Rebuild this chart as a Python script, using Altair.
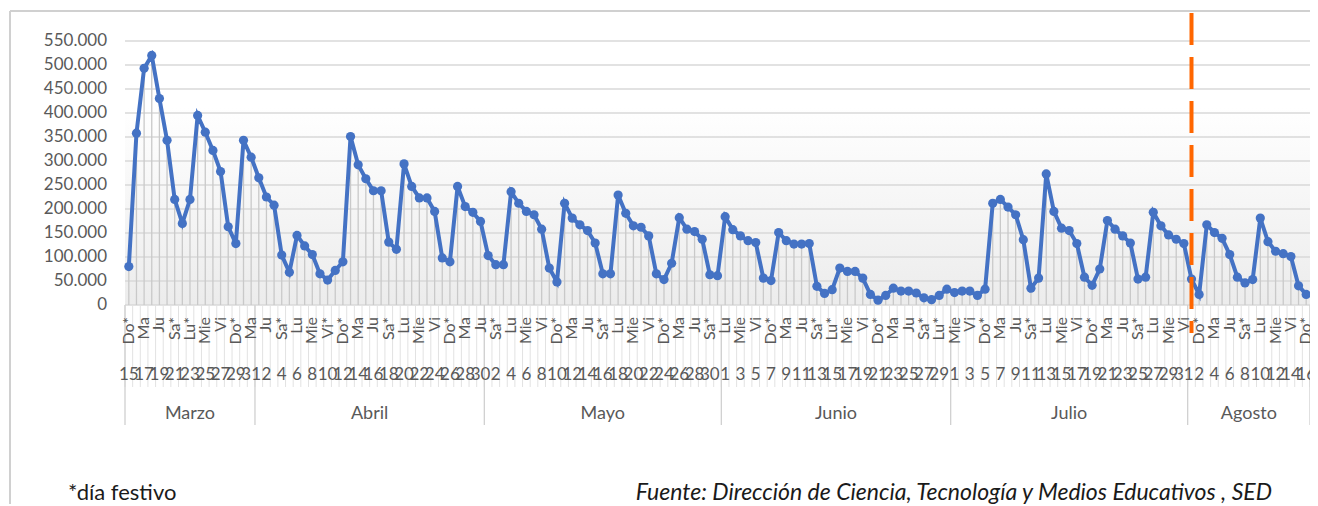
import datetime as dt
import altair as alt
import pandas as pd

# ---------------- data ----------------
months = ["Marzo", "Abril", "Mayo", "Junio", "Julio", "Agosto"]
marzo = [80, 358, 493, 520, 430, 343, 220, 170, 220, 395, 360, 322, 278, 163, 128, 343, 308]
abril = [265, 225, 208, 104, 68, 145, 123, 105, 65, 52, 72, 90, 351, 292, 263, 238, 238, 131, 116,
         294, 247, 223, 223, 195, 98, 90, 247, 205, 193, 174]
mayo = [103, 84, 84, 236, 212, 195, 188, 158, 77, 48, 212, 181, 167, 155, 129, 65, 65, 229, 191,
        165, 162, 144, 65, 53, 87, 182, 158, 153, 137, 63, 61]
junio = [184, 157, 144, 134, 130, 56, 51, 151, 134, 127, 127, 128, 39, 24, 32, 77, 70, 70, 56,
         22, 10, 20, 35, 29, 29, 25, 15, 11, 20, 33]
julio = [26, 29, 29, 20, 33, 212, 220, 204, 188, 136, 35, 56, 273, 195, 160, 155, 128, 58, 41,
         75, 176, 158, 144, 129, 54, 58, 193, 165, 146, 137, 128]
agosto = [54, 22, 167, 151, 139, 105, 58, 46, 53, 181, 132, 112, 107, 101, 40, 22]
series_k = [marzo, abril, mayo, junio, julio, agosto]
start_date = dt.date(2020, 3, 15)
dow_names = ["Lu", "Ma", "Mie", "Ju", "Vi", "Sa", "Do"]
holidays = [dt.date(2020, 3, 23), dt.date(2020, 4, 9), dt.date(2020, 4, 10), dt.date(2020, 5, 1),
            dt.date(2020, 5, 25), dt.date(2020, 6, 15), dt.date(2020, 6, 22), dt.date(2020, 6, 29),
            dt.date(2020, 7, 20), dt.date(2020, 8, 7)]
y_ticks = [0, 50000, 100000, 150000, 200000, 250000, 300000, 350000, 400000, 450000, 500000, 550000]
y_tick_labels = ["0", "50.000", "100.000", "150.000", "200.000", "250.000", "300.000",
                 "350.000", "400.000", "450.000", "500.000", "550.000"]
marker_index = 139  # 1 de agosto
note_text = "*día festivo"
source_text = "Fuente: Dirección de Ciencia, Tecnología y Medios Educativos , SED"

# ---------------- build table ----------------
rows = []
i = 0
month_first = []
for m, vals in zip(months, series_k):
    month_first.append(i)
    for v in vals:
        d = start_date + dt.timedelta(days=i)
        wd = d.weekday()
        lab = dow_names[wd] + ("*" if (wd >= 5 or d in holidays) else "")
        rows.append({"idx": i, "value": v * 1000, "dow": lab, "day": str(d.day), "month": m,
                     "show": i % 2 == 0})
        i += 1
n = i
df = pd.DataFrame(rows)
lab_df = df[df["show"]]

month_df = pd.DataFrame({
    "month": months,
    "center": [(month_first[k] + (month_first[k + 1] - 1 if k + 1 < len(months) else n - 1)) / 2
               for k in range(len(months))],
})
sep_df = pd.DataFrame({"pos": [f - 0.5 for f in month_first] + [n - 0.5]})
bound_df = pd.DataFrame({"pos": [k - 0.5 for k in range(n + 1)]})
ytick_df = pd.DataFrame({"v": y_ticks, "lab": y_tick_labels})
one = pd.DataFrame({"a": [0]})

W, H = 1185, 264
BLUE = "#4472C4"
GREY_TXT = "#595959"
FONT = "Lato"

xs = alt.Scale(domain=[-0.5, n - 0.5], nice=False, zero=False)
ys = alt.Scale(domain=[0, 550000], nice=False)

def X(field):
    return alt.X(field, type="quantitative", scale=xs, axis=None)

def Y(field):
    return alt.Y(field, type="quantitative", scale=ys, axis=None)

bg = alt.Chart(one).mark_rect(
    fill=alt.LinearGradient(gradient="linear", x1=0, x2=0, y1=0, y2=1,
                            stops=[alt.GradientStop(color="#ffffff", offset=0),
                                   alt.GradientStop(color="#ffffff", offset=0.25),
                                   alt.GradientStop(color="#ececec", offset=1)])
).encode(x=alt.value(0), x2=alt.value(W), y=alt.value(0), y2=alt.value(H))

grid = alt.Chart(ytick_df).mark_rule(color="#d9d9d9", strokeWidth=1.5).encode(
    y=Y("v"), x=alt.value(0), x2=alt.value(W))

ylabels = alt.Chart(ytick_df).mark_text(align="right", baseline="middle", font=FONT,
                                        fontSize=17, color=GREY_TXT).encode(
    y=Y("v"), x=alt.value(-18), text="lab:N")

drop = alt.Chart(df).mark_rule(color="#c9c9c9", strokeWidth=1.3).encode(
    x=X("idx"), y=Y("value"), y2=alt.datum(0))

line = alt.Chart(df).mark_line(color=BLUE, strokeWidth=4).encode(x=X("idx"), y=Y("value"))
pts = alt.Chart(df).mark_circle(color=BLUE, size=85, opacity=1).encode(x=X("idx"), y=Y("value"))

bounds = alt.Chart(bound_df).mark_rule(color="#e2e2e2", strokeWidth=1).encode(
    x=X("pos"), y=alt.value(H), y2=alt.value(H + 82))
seps = alt.Chart(sep_df).mark_rule(color="#d0d0d0", strokeWidth=1.3).encode(
    x=X("pos"), y=alt.value(H), y2=alt.value(H + 120))

dow_txt = alt.Chart(lab_df).mark_text(angle=270, align="right", baseline="middle", font=FONT,
                                      fontSize=16, color=GREY_TXT).encode(
    x=X("idx"), y=alt.value(H + 12), text="dow:N")
day_txt = alt.Chart(lab_df).mark_text(align="center", baseline="middle", font=FONT,
                                      fontSize=17, color=GREY_TXT).encode(
    x=X("idx"), y=alt.value(H + 70), text="day:N")
month_txt = alt.Chart(month_df).mark_text(align="center", baseline="middle", font=FONT,
                                          fontSize=18, color=GREY_TXT).encode(
    x=X("center"), y=alt.value(H + 109), text="month:N")

marker = alt.Chart(pd.DataFrame({"idx": [marker_index]})).mark_rule(
    color="#FF6600", strokeWidth=4, strokeDash=[32, 12]).encode(
    x=X("idx"), y=alt.value(-28), y2=alt.value(292))

frame_top = alt.Chart(one).mark_rule(color="#d0d0d0", strokeWidth=2).encode(
    x=alt.value(-115), x2=alt.value(W + 20), y=alt.value(-30))
frame_left = alt.Chart(one).mark_rule(color="#d0d0d0", strokeWidth=2).encode(
    x=alt.value(-115), y=alt.value(-30), y2=alt.value(H + 220))

note = alt.Chart(one).mark_text(align="left", baseline="alphabetic", font=FONT, fontSize=22,
                                color="#1a1a1a").encode(
    x=alt.value(-57), y=alt.value(459), text=alt.value(note_text))
source = alt.Chart(one).mark_text(align="right", baseline="alphabetic", font=FONT, fontSize=23,
                                  fontStyle="italic", color="#1a1a1a").encode(
    x=alt.value(1147), y=alt.value(459), text=alt.value(source_text))

chart = alt.layer(bg, grid, drop, bounds, seps, line, pts, marker, ylabels, dow_txt, day_txt,
                  month_txt, frame_top, frame_left, note, source).properties(
    width=W, height=H,
    padding={"left": 117, "top": 33, "right": 0, "bottom": 199},
    autosize=alt.AutoSizeParams(type="none"),
).configure_view(stroke=None)

chart.save("out.html", embed_options={"renderer": "svg", "actions": False})
